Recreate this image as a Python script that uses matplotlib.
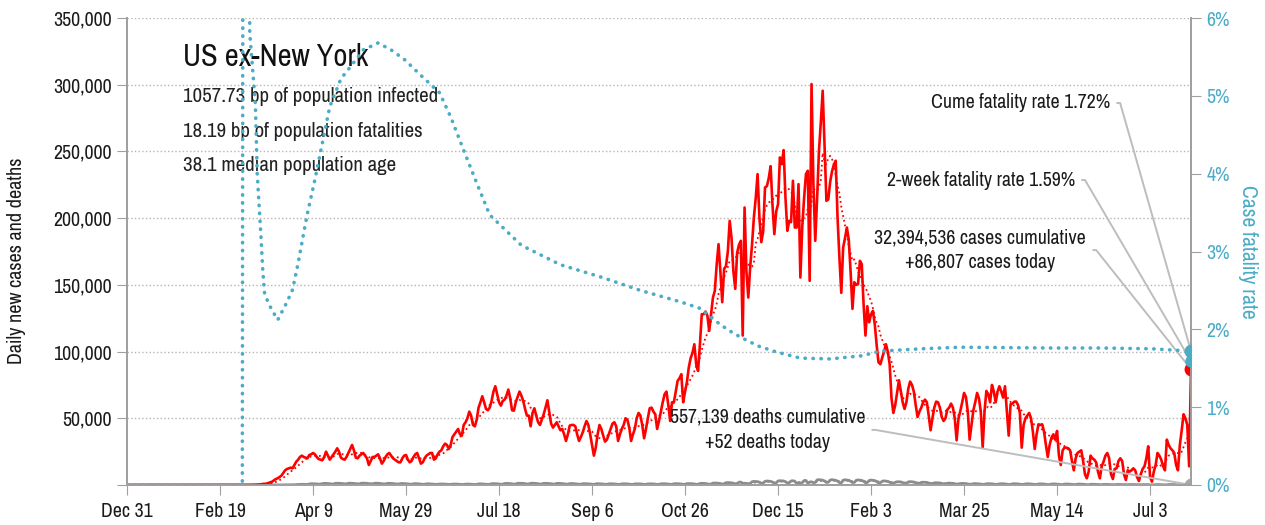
import numpy as np
import pandas as pd
import matplotlib
matplotlib.use('Agg')
import matplotlib.pyplot as plt
from matplotlib import font_manager
from matplotlib.ticker import FuncFormatter

# the reference uses a condensed face; take one if any is installed
narrow = sorted({f.name for f in font_manager.fontManager.ttflist
                 if 'Narrow' in f.name or 'Condensed' in f.name
                 or str(f.stretch) in ('condensed', 'semi-condensed', '75', '87.5')})
fams = narrow + ['Roboto', 'DejaVu Sans']
plt.rcParams['font.family'] = fams

# --- data -------------------------------------------------------------
start_date = '2019-12-31'
tick_days = [0, 50, 100, 150, 200, 250, 300, 350, 400, 450, 500, 550]

# daily new cases, thousands; one row = 7 days (Tue..Mon) from Dec 31 2019
cases_k = [
    0, 0, 0, 0, 0, 0, 0,
    0, 0, 0, 0, 0, 0, 0,
    0, 0, 0, 0, 0, 0, 0,
    0, 0, 0, 0, 0, 0, 0,
    0, 0, 0, 0, 0, 0, 0,
    0, 0, 0, 0, 0, 0, 0,
    0, 0, 0, 0, 0, 0, 0,
    0, 0, 0, 0, 0, 0, 0,
    0, 0, 0, 0, 0, 0, 0,
    0.02, 0.03, 0.05, 0.07, 0.1, 0.12, 0.2,
    0.3, 0.4, 0.5, 0.8, 0.9, 1.0, 1.5,
    2, 2.5, 3.5, 4.5, 5, 6, 7,
    9, 11, 12, 12.5, 13, 12.5, 15,
    17.5, 19, 21, 22, 21, 20.5, 20,
    22.5, 23, 24, 23, 21, 19.5, 19,
    18.5, 21, 25, 22, 19, 21, 23,
    25, 27.5, 25, 20.5, 19.5, 19, 21,
    24, 27, 30, 26, 20.5, 20, 22,
    23, 24, 22, 20, 15, 18, 21,
    21, 22, 23, 20, 16, 18, 21,
    23, 24, 22, 20, 19, 18, 17,
    17, 20, 22, 22.5, 19, 17, 18,
    21, 23, 24, 20, 16, 17, 20,
    22, 23, 24, 24, 19, 20, 23,
    25, 26, 29, 31, 30, 27, 30,
    36, 38, 40, 42, 38, 37, 45,
    47, 50, 55, 52, 45, 44, 49,
    58, 62, 66.5, 62, 57, 56, 58,
    63, 70, 74, 68, 62, 59.5, 63,
    64, 67, 71.5, 65, 56, 55.7, 62,
    66, 70, 67, 63, 57, 52, 52,
    44, 54, 57.5, 52, 47, 45, 49,
    53, 58, 63.5, 55, 46, 43, 45,
    47, 44, 41, 42, 38, 33, 38,
    44.5, 45, 45, 44, 38, 33, 36,
    39.5, 44, 48, 45, 38, 30, 22,
    28, 38, 45, 42, 37, 32.5, 34,
    38, 42, 46, 47, 44, 33, 38,
    42, 45, 50, 49, 43, 33, 38,
    42, 50, 54, 52, 45, 35, 42,
    50, 57.5, 58, 55, 53, 42, 48,
    55, 62, 68, 70, 60, 48, 62,
    62, 70, 78, 80, 83, 62, 70,
    77, 88, 95, 99, 105.5, 90.5, 85.5,
    105.5, 128, 128, 130, 127, 115.5, 128,
    140.5, 145.5, 165, 180.5, 160, 137, 162,
    164, 175, 198, 185, 160, 147, 174,
    180, 183, 112, 208, 160, 140.5, 163,
    180, 200.5, 215, 233, 200, 182, 190,
    223, 224, 230, 239, 210, 188, 205,
    210.5, 245.5, 240.5, 251, 215, 190.5, 198,
    197, 228, 193, 193, 225.5, 155.5, 193,
    215, 233, 235.5, 153, 300.5, 225.5, 183,
    215, 250.5, 272, 295.5, 255, 213, 214,
    227, 235, 240, 243, 200, 170, 144,
    178, 185, 193, 184, 160, 132, 152,
    150, 150.5, 168, 165.5, 135, 112, 134,
    122, 128, 130.5, 120.5, 105, 92, 90.5,
    95.5, 100, 105.5, 100, 90.5, 65, 54,
    60, 69, 78.5, 70, 62, 57, 62,
    72, 77.5, 75, 70, 60, 51, 55,
    58, 62, 64, 62, 52, 41, 50,
    58, 62.5, 62, 58, 51, 48, 50,
    56.5, 58, 61, 58, 50, 33.5, 50,
    55.5, 62, 69, 66, 55, 34, 45,
    56, 62, 69, 65, 55, 28, 55,
    70.5, 68, 62, 75, 70, 62, 70,
    74, 70, 65.5, 74, 55, 37, 60.5,
    61, 62.5, 62.5, 60, 54, 28, 45,
    50, 52, 54, 50, 40, 27, 38,
    45.5, 45, 45.5, 40, 30, 21, 30,
    35.5, 38, 34, 40.5, 22, 15, 26,
    28, 28, 27.5, 26, 18, 11, 20,
    24, 25, 26, 18, 8, 5, 10,
    22, 20, 19, 17, 10, 5, 14,
    17.5, 22, 24, 20, 8, 4.5, 12,
    12.5, 18, 20, 18, 8, 3.75, 11,
    10, 11, 12.5, 11, 6, 3, 8,
    12, 14, 20, 29, 6, 2.5, 10,
    15, 24, 22, 19, 14, 11, 34,
    30, 27.5, 26, 24, 15, 11, 30,
    41, 53, 50, 45, 14, 86.807,
]

# daily new deaths, hundreds; same layout
deaths_h = [
    0, 0, 0, 0, 0, 0, 0,
    0, 0, 0, 0, 0, 0, 0,
    0, 0, 0, 0, 0, 0, 0,
    0, 0, 0, 0, 0, 0, 0,
    0, 0, 0, 0, 0, 0, 0,
    0, 0, 0, 0, 0, 0, 0,
    0, 0, 0, 0, 0, 0, 0,
    0, 0, 0, 0, 0, 0, 0,
    0, 0, 0, 0, 0, 0, 0,
    0, 0, 0, 0, 0, 0, 0.1,
    0.1, 0.1, 0.1, 0.1, 0.1, 0.1, 0.1,
    0.2, 0.3, 0.3, 0.4, 0.5, 0.5, 0.6,
    0.9, 1.1, 1.4, 1.7, 1.6, 1.5, 1.7,
    3.2, 4, 4.5, 5, 5, 4.2, 4.6,
    7.5, 9.5, 9, 9, 8, 6, 6.5,
    10, 12, 12, 11, 9.5, 7, 7.5,
    12.5, 13, 12.5, 12, 10, 8, 8.5,
    13, 13.5, 12.5, 12, 10, 7.5, 8.5,
    13.5, 14, 13.5, 12.5, 10, 8, 8.5,
    13, 13.5, 12.5, 12, 9.5, 7, 8,
    12, 12.5, 11.5, 10.5, 9, 6.5, 7,
    10.5, 11, 10.5, 9.5, 8, 6, 5,
    9.5, 10, 9.5, 8.5, 7, 5, 5.5,
    8.5, 9, 8, 7.5, 6, 4.5, 5,
    7, 7.5, 7, 6.5, 5, 4, 4.5,
    6.5, 7, 6.5, 6, 4.5, 3.5, 4,
    6.5, 7, 6.5, 5.5, 4, 3.5, 4,
    8, 8.5, 7.5, 7, 5.5, 4.5, 5,
    9.5, 10, 9.5, 9, 7, 5.5, 6,
    11, 12, 11.5, 10.5, 8.5, 6.5, 7,
    12.5, 13, 12.5, 12, 9.5, 7, 7.5,
    12.5, 13.5, 12.5, 11.5, 9.5, 7, 7.5,
    12, 12.5, 12, 11, 9, 6.5, 7,
    11.5, 12, 11.5, 10.5, 8.5, 6, 6.5,
    10, 11, 10, 9.5, 7.5, 5.5, 6,
    9.5, 10, 9.5, 8.5, 7, 5, 4.5,
    8, 10, 9, 8.5, 7, 5, 5,
    8.5, 9, 8.5, 8, 6.5, 4.5, 5,
    8, 9, 8.5, 8, 6.5, 4.5, 4.5,
    8, 8.5, 8.5, 8, 6.5, 4.5, 4.5,
    8, 8.5, 8.5, 8, 6.5, 4.5, 4.5,
    8.5, 9.5, 9, 8.5, 7, 5, 5,
    9, 10, 9.5, 9, 7, 5, 5,
    10, 10.5, 10, 9.5, 7.5, 5, 5.5,
    11, 12.5, 11.5, 11, 8.5, 5.5, 6.5,
    14, 15, 14, 13, 10.5, 7, 8,
    17, 18.5, 17, 16, 13, 9, 10,
    21, 22, 12, 13, 12, 9.5, 11,
    24, 27, 26, 25, 21, 13, 14,
    27, 30, 28.5, 27, 22, 15, 16,
    30, 32, 31, 30, 24, 16, 17,
    30, 32, 28, 12, 18, 14, 18,
    33, 34, 13, 22, 24, 17, 19,
    38, 40, 38, 36, 30, 19, 21,
    37, 40, 37, 35, 29, 18, 16,
    36, 39, 37, 35, 29, 18, 19,
    35, 38, 36, 34, 28, 17, 19,
    34, 37, 35, 33, 26, 16, 17,
    28, 31, 29, 27, 21, 13, 13,
    20, 24, 24, 23, 18, 11, 13,
    23, 25, 24, 22, 18, 11, 12,
    19, 21, 20, 19, 15, 9.5, 10,
    16, 17, 16, 15, 12, 7.5, 8.5,
    13, 14, 13, 12, 9.5, 6, 7,
    11, 12, 11, 10.5, 8, 5, 6,
    9.5, 10.5, 9.5, 9, 7, 4.5, 5,
    9, 10, 9.5, 8.5, 6.5, 4.5, 5,
    8.5, 9.5, 9, 8, 6, 4, 4.5,
    8.5, 9.5, 9, 8, 6, 4, 4.5,
    8, 9, 8.5, 7.5, 6, 4, 4.5,
    7.5, 8.5, 8, 7, 5.5, 3.5, 3.5,
    7, 8, 7.5, 6.5, 5, 3.5, 3.5,
    6.5, 7.5, 7, 6, 4.5, 3, 3.5,
    6, 7, 6.5, 5.5, 4, 2.5, 2,
    5, 5.5, 5, 4.5, 3.5, 2, 2.5,
    4, 4.5, 4, 3.5, 3, 1.5, 2,
    3.5, 4, 3.5, 3.5, 2.5, 1.5, 2,
    3.5, 3.5, 3, 3, 2.5, 1.5, 1.5,
    3, 3, 3, 2.5, 1, 0.5, 1.5,
    3, 3.5, 3, 2.5, 1.5, 0.5, 1.5,
    3.5, 3.5, 3, 3, 1.5, 0.5, 1.5,
    3.5, 3.5, 3.5, 3, 1.5, 0.52,
]

# case fatality rate (cumulative deaths / cumulative cases), percent
cfr_days = [0, 62, 63, 64, 66, 69, 70, 72, 73, 74, 77, 81, 86, 89, 92, 95,
            97, 101, 105, 109, 115, 120, 127, 135, 142, 149, 159, 168, 174,
            181, 188, 195, 212, 233, 255, 276, 298, 308, 319, 326, 333, 340,
            349, 362, 378, 395, 405, 427, 448, 497, 524, 551, 572]
cfr_pct = [0, 0, 25, 12, 5.8, 4.9, 4.0, 3.2, 2.75, 2.45, 2.29, 2.12, 2.35,
           2.51, 2.85, 3.24, 3.49, 3.92, 4.39, 4.86, 5.22, 5.37, 5.59, 5.68,
           5.59, 5.47, 5.24, 5.04, 4.73, 4.30, 3.88, 3.47, 3.08, 2.83, 2.67,
           2.50, 2.35, 2.27, 2.06, 1.95, 1.86, 1.78, 1.71, 1.63, 1.62, 1.66,
           1.72, 1.75, 1.77, 1.76, 1.76, 1.75, 1.72]

cume_rate = 1.72
two_week_rate = 1.59
cases_total = 32394536
deaths_total = 557139
title = 'US ex-New York'
facts = ['1057.73 bp of population infected',
         '18.19 bp of population fatalities',
         '38.1 median population age']

# --- prep -------------------------------------------------------------
cases = np.array(cases_k) * 1000
deaths = np.array(deaths_h) * 100
days = np.arange(len(cases))
cases_avg = pd.Series(cases).rolling(7, min_periods=1).mean()
deaths_avg = pd.Series(deaths).rolling(7, min_periods=1).mean()
last = days[-1]

RED = '#ff0000'
BLUE = '#4bacc6'
GREY = '#8c8c8c'
AXC = '#a0a0a0'
# DejaVu/Roboto are wider than the reference face, so shrink if no narrow font
k = 1.0 if narrow else 0.85
fs = 14.3 * k

fig = plt.figure(figsize=(12.65, 5.25), dpi=100)
ax = fig.add_axes([0.1004, 0.0762, 0.8411, 0.8895])
ax2 = ax.twinx()

ax.plot(days, deaths, color=GREY, lw=2, zorder=2)
ax.plot(days, deaths_avg, color=GREY, lw=1.2, ls=':', zorder=2)
ax.plot(days, cases_avg, color=RED, lw=1.3, ls=':', zorder=3)
ax.plot(days, cases, color=RED, lw=1.9, zorder=3)
ax.plot(last, cases[-1], 'o', color=RED, ms=9, zorder=5)
ax.plot(last, deaths[-1], 'o', color='#a8a8a8', ms=9, zorder=5)

ax2.plot(cfr_days, cfr_pct, color=BLUE, lw=2.6, ls=(0, (0.1, 2.1)),
         dash_capstyle='round')
ax2.plot(last, cume_rate, 'o', color=BLUE, ms=9, zorder=5)
ax2.plot(last, two_week_rate, 'o', color=BLUE, ms=8, zorder=5)

ax.set_xlim(0, last)
ax.set_ylim(0, 350000)
ax2.set_ylim(0, 6)
ax.set_yticks(range(0, 350001, 50000))
ax2.set_yticks(range(0, 7))
ax.yaxis.set_major_formatter(FuncFormatter(lambda v, p: '' if v == 0 else f'{v:,.0f}'))
ax2.yaxis.set_major_formatter(FuncFormatter(lambda v, p: f'{v:.0f}%'))

tick_dates = pd.Timestamp(start_date) + pd.to_timedelta(tick_days, unit='D')
ax.set_xticks(tick_days)
ax.set_xticklabels([f'{d:%b} {d.day}' for d in tick_dates])

ax.grid(axis='y', color='#b5b5b5', ls=':', lw=1)
for a in (ax, ax2):
    a.spines['top'].set_visible(False)
    for s in ('left', 'right', 'bottom'):
        a.spines[s].set_color(AXC)
        a.spines[s].set_linewidth(1.3)
ax.tick_params(axis='both', length=7, color=AXC, labelsize=fs, labelcolor='#1a1a1a', pad=4)
ax.tick_params(axis='x', pad=5)
ax2.tick_params(axis='y', length=7, color=AXC, labelsize=fs, labelcolor=BLUE, pad=4)

ax.set_ylabel('Daily new cases and deaths', fontsize=14.5 * k, color='#1a1a1a')
ax.yaxis.set_label_coords(-0.095, 0.48)
ax2.set_ylabel('Case fatality rate', fontsize=15.5 * k, color=BLUE, rotation=270,
               va='center')
ax2.yaxis.set_label_coords(1.054, 0.5)

ax.text(0.0526, 0.916, title, transform=ax.transAxes, fontsize=22 * k,
        va='center', ha='left', color='#111111')
for i, line in enumerate(facts):
    ax.text(0.0526, 0.831 - i * 0.073, line, transform=ax.transAxes,
            fontsize=15 * k, va='center', ha='left', color='#222222')

conn = dict(arrowstyle='-', color='#bdbdbd', lw=1.4, shrinkA=3, shrinkB=0,
            relpos=(1, 0.5), connectionstyle='arc,angleA=0,armA=10,rad=0')
ax2.annotate(f'Cume fatality rate {cume_rate:.2f}%', xy=(last, cume_rate),
             xytext=(0.924, 0.818), textcoords='axes fraction', ha='right',
             va='center', fontsize=fs, color='#1a1a1a', arrowprops=conn)
ax2.annotate(f'2-week fatality rate {two_week_rate:.2f}%', xy=(last, two_week_rate),
             xytext=(0.891, 0.653), textcoords='axes fraction', ha='right',
             va='center', fontsize=fs, color='#1a1a1a', arrowprops=conn)
ax.annotate(f'{cases_total:,} cases cumulative\n+{cases[-1]:,.0f} cases today',
            xy=(last, cases[-1]), xytext=(0.802, 0.503),
            textcoords='axes fraction', ha='center', va='center',
            multialignment='center', fontsize=fs, color='#1a1a1a',
            linespacing=1.4, arrowprops=conn)
ax.annotate(f'{deaths_total:,} deaths cumulative\n+{deaths[-1]:,.0f} deaths today',
            xy=(last, deaths[-1]), xytext=(0.602, 0.118),
            textcoords='axes fraction', ha='center', va='center',
            multialignment='center', fontsize=fs, color='#1a1a1a',
            linespacing=1.4, arrowprops=conn)

fig.savefig('out.png', dpi=100)
